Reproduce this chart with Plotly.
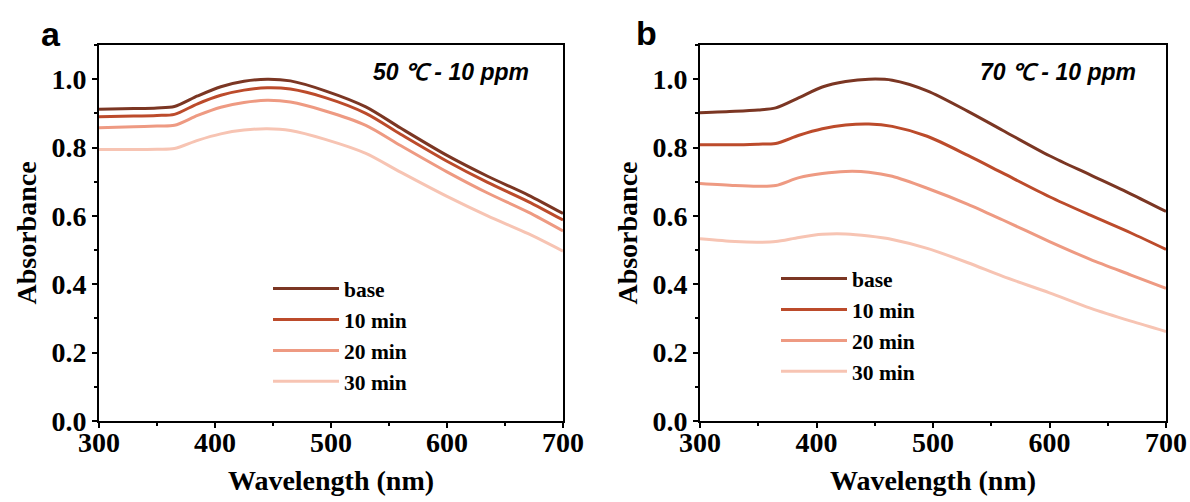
import plotly.graph_objects as go

wavelength = [300, 330, 350, 365, 385, 405, 425, 445, 465, 495, 530, 560, 600, 635, 670, 700]
series_names = ["base", "10 min", "20 min", "30 min"]
colors = ["#7B3623", "#BC4B2B", "#EE9A82", "#F7C4B3"]

a_base = [0.912, 0.914, 0.916, 0.920, 0.951, 0.978, 0.994, 1.000, 0.995, 0.966, 0.919, 0.857, 0.777, 0.716, 0.661, 0.607]
a_10 = [0.890, 0.892, 0.894, 0.897, 0.928, 0.953, 0.968, 0.975, 0.971, 0.946, 0.900, 0.839, 0.760, 0.698, 0.642, 0.588]
a_20 = [0.858, 0.861, 0.863, 0.865, 0.894, 0.918, 0.932, 0.938, 0.933, 0.907, 0.865, 0.806, 0.729, 0.667, 0.611, 0.556]
a_30 = [0.794, 0.794, 0.795, 0.797, 0.821, 0.840, 0.851, 0.855, 0.850, 0.824, 0.783, 0.728, 0.657, 0.600, 0.548, 0.497]

b_base = [0.902, 0.906, 0.910, 0.916, 0.946, 0.977, 0.993, 1.000, 0.997, 0.966, 0.906, 0.850, 0.776, 0.720, 0.664, 0.613]
b_10 = [0.808, 0.808, 0.810, 0.812, 0.836, 0.855, 0.866, 0.869, 0.862, 0.833, 0.777, 0.725, 0.656, 0.602, 0.550, 0.502]
b_20 = [0.695, 0.689, 0.687, 0.689, 0.712, 0.724, 0.730, 0.728, 0.716, 0.681, 0.634, 0.588, 0.525, 0.473, 0.427, 0.388]
b_30 = [0.533, 0.525, 0.523, 0.525, 0.537, 0.546, 0.547, 0.541, 0.531, 0.505, 0.463, 0.423, 0.375, 0.330, 0.292, 0.262]

x_ticks = [300, 400, 500, 600, 700]
y_ticks = [0.0, 0.2, 0.4, 0.6, 0.8, 1.0]
panel_labels = ["a", "b"]
conditions = ["50 ℃ - 10 ppm", "70 ℃ - 10 ppm"]

serif = "Liberation Serif"
fig = go.Figure()

for i, (name, ys) in enumerate(zip(series_names, [a_base, a_10, a_20, a_30])):
    fig.add_trace(go.Scatter(x=wavelength, y=ys, mode="lines", name=name,
                             line=dict(color=colors[i], width=3, shape="spline", smoothing=0.8),
                             xaxis="x", yaxis="y", legend="legend"))
for i, (name, ys) in enumerate(zip(series_names, [b_base, b_10, b_20, b_30])):
    fig.add_trace(go.Scatter(x=wavelength, y=ys, mode="lines", name=name,
                             line=dict(color=colors[i], width=3, shape="spline", smoothing=0.8),
                             xaxis="x2", yaxis="y2", legend="legend2"))

W, H = 1190, 502
ydom = [1 - 421 / H, 1 - 45 / H]
xdom_a = [99 / W, 563 / W]
xdom_b = [700 / W, 1166 / W]

def xaxis(dom, anchor):
    return dict(domain=dom, anchor=anchor, range=[300, 700], tickvals=x_ticks,
                automargin=False,
                showline=True, linewidth=2, linecolor="black", mirror=True,
                ticks="outside", ticklen=5, tickwidth=2, tickcolor="black",
                ticklabelstandoff=-10,
                minor=dict(ticks="outside", ticklen=3, tickwidth=1.5, dtick=50, tickcolor="black"),
                showgrid=False, zeroline=False,
                tickfont=dict(family=serif, size=28, color="black", weight="bold"),
                title=dict(text="Wavelength (nm)", standoff=14,
                           font=dict(family=serif, size=28, color="black", weight="bold")))

def yaxis(dom, anchor):
    return dict(domain=dom, anchor=anchor, range=[0, 1.1], tickvals=y_ticks,
                tickformat=".1f", automargin=False,
                showline=True, linewidth=2, linecolor="black", mirror=True,
                ticks="outside", ticklen=5, tickwidth=2, tickcolor="black",
                minor=dict(ticks="outside", ticklen=3, tickwidth=1.5, dtick=0.1, tickcolor="black"),
                showgrid=False, zeroline=False,
                tickfont=dict(family=serif, size=28, color="black", weight="bold"),
                title=dict(text="Absorbance", standoff=7,
                           font=dict(family=serif, size=28, color="black", weight="bold")))

legend_font = dict(family=serif, size=21.5, color="black", weight="bold")
fig.update_layout(
    width=W, height=H,
    margin=dict(l=0, r=0, t=0, b=0),
    paper_bgcolor="white", plot_bgcolor="white",
    xaxis=xaxis(xdom_a, "y"), yaxis=yaxis(ydom, "x"),
    xaxis2=xaxis(xdom_b, "y2"), yaxis2=yaxis(ydom, "x2"),
    legend=dict(x=268 / W, y=1 - 268 / H, xanchor="left", yanchor="top",
                bgcolor="rgba(0,0,0,0)", font=legend_font, itemwidth=66,
                tracegroupgap=0),
    legend2=dict(x=776 / W, y=1 - 258 / H, xanchor="left", yanchor="top",
                 bgcolor="rgba(0,0,0,0)", font=legend_font, itemwidth=66,
                 tracegroupgap=0),
    showlegend=True,
)

for lab, xp, yp in zip(panel_labels, [39, 646], [13, 12]):
    fig.add_annotation(text=lab, x=xp / W, y=1 - yp / H, xref="paper", yref="paper",
                       showarrow=False,
                       font=dict(family="Liberation Sans", size=34, color="black", weight="bold"))
for cond, xp in zip(conditions, [531, 1138]):
    fig.add_annotation(text=cond, x=xp / W, y=1 - 57 / H, xref="paper", yref="paper",
                       xanchor="right", showarrow=False,
                       font=dict(family="Liberation Sans", size=23, color="black",
                                 weight="bold", style="italic"))

fig.write_html("out.html", config={"displayModeBar": False},
               post_script="document.body.style.margin='0';document.body.style.padding='0';")
